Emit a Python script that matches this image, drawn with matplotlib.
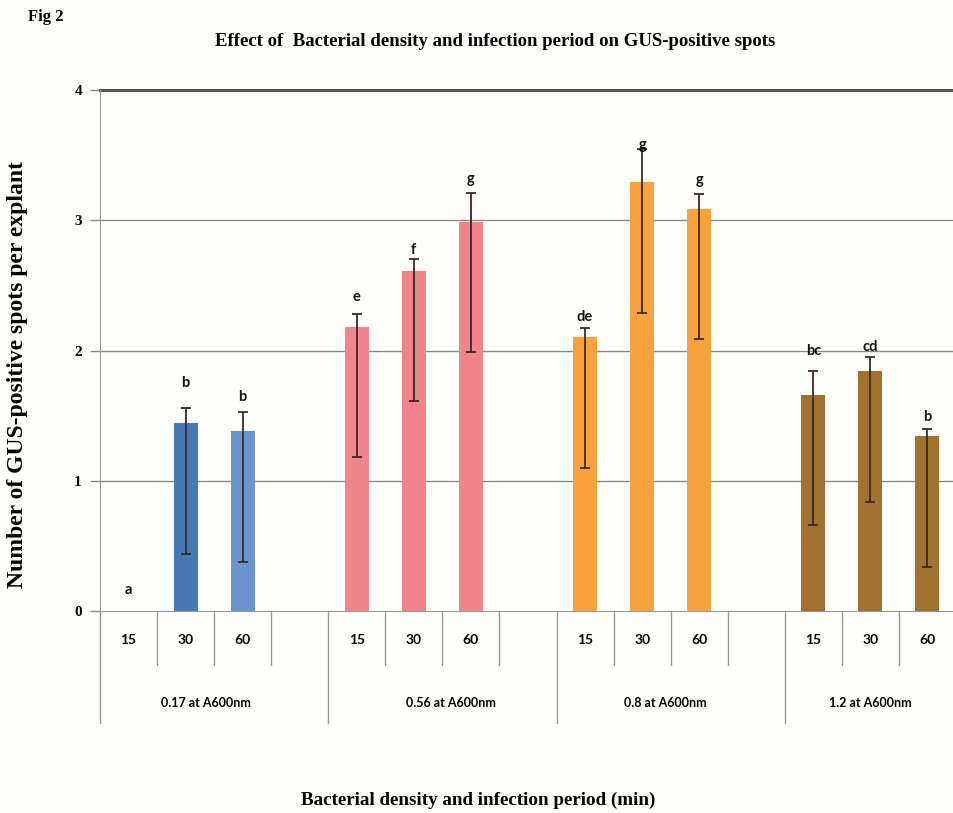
import matplotlib
matplotlib.use("Agg")
import matplotlib.pyplot as plt

# Bacterial density groups and infection periods (min)
groups = ["0.17 at A600nm", "0.56 at A600nm", "0.8 at A600nm", "1.2 at A600nm"]
periods = ["15", "30", "60"]

# Mean number of GUS-positive spots per explant
means = [
    [0.00, 1.44, 1.38],
    [2.18, 2.61, 2.99],
    [2.10, 3.29, 3.09],
    [1.66, 1.84, 1.34],
]
# Error bar extents above and below each mean
err_up = [
    [0.00, 0.12, 0.15],
    [0.10, 0.09, 0.22],
    [0.07, 0.26, 0.11],
    [0.18, 0.11, 0.06],
]
err_down = [
    [0.00, 1.00, 1.00],
    [1.00, 1.00, 1.00],
    [1.00, 1.00, 1.00],
    [1.00, 1.00, 1.00],
]
# Significance letters and their heights
letters = [
    ["a", "b", "b"],
    ["e", "f", "g"],
    ["de", "g", "g"],
    ["bc", "cd", "b"],
]
letter_y = [
    [0.16, 1.75, 1.64],
    [2.41, 2.77, 3.32],
    [2.26, 3.58, 3.31],
    [2.00, 2.03, 1.49],
]
bar_colors = [
    ["#4a78b5", "#4a78b5", "#6b93cc"],
    ["#f0848a", "#f0848a", "#f0848a"],
    ["#f8a13f", "#f8a13f", "#f8a13f"],
    ["#a0712f", "#a0712f", "#a0712f"],
]
# Horizontal offsets of the group captions within their cells
group_label_x = [1.35, 1.65, 1.4, 1.0]

serif = ["Liberation Serif", "DejaVu Serif"]
sans = ["Lato", "DejaVu Sans"]

fig = plt.figure(figsize=(9.54, 8.13), dpi=100, facecolor="#fefefb")
ax = fig.add_axes([100 / 954, 1 - 611 / 813, 856 / 954, 521 / 813])
ax.set_facecolor("#fefefb")

n_slots = 4 * len(groups) - 1
for g in range(len(groups)):
    for j in range(len(periods)):
        x = 4 * g + j
        m = means[g][j]
        if m > 0:
            ax.bar(x, m, width=0.42, color=bar_colors[g][j], zorder=3)
            ax.errorbar(x, m, yerr=[[err_down[g][j]], [err_up[g][j]]],
                        fmt="none", ecolor="#3b2a22", elinewidth=1.3,
                        capsize=3.5, capthick=1.3, zorder=4)
        ax.text(x, letter_y[g][j], letters[g][j], ha="center", va="center",
                fontsize=10.5, fontweight="bold", family=sans, color="#111111",
                zorder=5)

ax.set_xlim(-0.5, n_slots - 0.5)
ax.set_ylim(0, 4)
ax.set_yticks([0, 1, 2, 3, 4])
ax.set_yticklabels(["0", "1", "2", "3", "4"], family=serif, fontweight="bold",
                   fontsize=11)
ax.tick_params(axis="y", length=7, width=1, color="#888888", pad=6)
ax.set_xticks([])

for y in [1, 2, 3]:
    ax.axhline(y, color="#8a8a8a", lw=1.0, zorder=1)
ax.axhline(4, color="#555555", lw=2.2, zorder=2, clip_on=False)

for s in ["top", "right"]:
    ax.spines[s].set_visible(False)
ax.spines["left"].set_color("#999999")
ax.spines["bottom"].set_color("#999999")

# Category table beneath the axis
xt = ax.get_xaxis_transform()
short_y = -54 / 521
long_y = -112 / 521
for g in range(len(groups)):
    ax.plot([4 * g - 0.5, 4 * g - 0.5], [0, long_y], transform=xt,
            color="#999999", lw=1.0, clip_on=False)
    for k in range(3):
        xb = 4 * g + k + 0.5
        if xb < n_slots - 0.5:
            ax.plot([xb, xb], [0, short_y], transform=xt,
                    color="#999999", lw=1.0, clip_on=False)
    for j, p in enumerate(periods):
        ax.text(4 * g + j, -29 / 521, p, transform=xt, ha="center",
                va="center", fontsize=10, fontweight="bold", family=sans)
    ax.text(4 * g + group_label_x[g], -92 / 521, groups[g], transform=xt,
            ha="center", va="center", fontsize=9, fontweight="bold",
            family=sans)

fig.text(28 / 954, 1 - 17 / 813, "Fig 2", fontsize=12, fontweight="bold",
         family=serif, ha="left", va="center")
fig.text(495 / 954, 1 - 42 / 813,
         "Effect of  Bacterial density and infection period on GUS-positive spots",
         fontsize=13.5, fontweight="bold", family=serif, ha="center",
         va="center")
fig.text(18 / 954, 1 - 374 / 813, "Number of GUS-positive spots per explant",
         rotation=90, fontsize=17, fontweight="bold", family=serif,
         ha="center", va="center")
fig.text(478 / 954, 1 - 800 / 813,
         "Bacterial density and infection period (min)", fontsize=13.7,
         fontweight="bold", family=serif, ha="center", va="center")

fig.savefig("out.png", dpi=100, facecolor=fig.get_facecolor())
